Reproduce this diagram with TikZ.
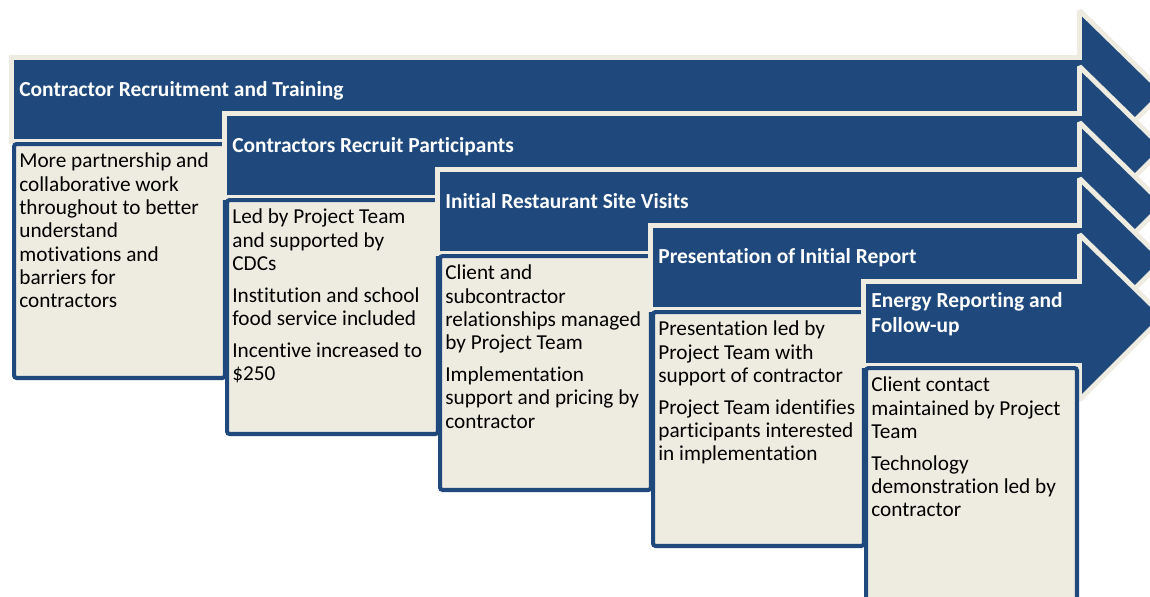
\documentclass[tikz,border=0pt]{standalone}
\usepackage{fontspec}
\setmainfont{Carlito}[Ligatures=NoCommon]
\usepackage{xcolor}
\usepackage{tikz}
\definecolor{stgblue}{RGB}{31,73,125}
\definecolor{stgcream}{RGB}{238,236,225}
\tikzset{
  stgarrow/.style={draw=stgcream,fill=stgblue,line width=2.8pt,
                   line join=miter,miter limit=2},
  stgcard/.style={draw=stgblue,fill=stgcream,line width=2.3pt,
                  rounded corners=1.5pt,anchor=north west,inner sep=0pt,
                  minimum width=4.22cm,minimum height=4.68cm},
  stgtitle/.style={anchor=west,text=white,align=left,inner sep=0pt,
                   font=\fontsize{12.2}{14.2}\selectfont\bfseries},
  stgnote/.style={anchor=north west,align=left,inner sep=0pt,
                  font=\fontsize{12.1}{13.3}\selectfont}
}

\begin{document}
\begin{tikzpicture}[x=0.02cm,y=-0.02cm]
  \useasboundingbox (0,0) rectangle (1150,596);
  \clip (0,0) rectangle (1150,596);

  % stage 1
  \draw[stgarrow] (11.5,57.5) -- (1079.5,57.5) -- (1079.5,10.5) -- (1163.25,92.25)
    -- (1079.5,176) -- (1079.5,141.5) -- (11.5,141.5) -- cycle;
  \node[stgtitle] (train) at (19,90.5) {Contractor Recruitment and Training};
  \node[stgcard] (traincard) at (12,142) {};
  \node[stgnote] (trainnote) at ([shift={(7,10.6)}]traincard.north west)
    {More partnership and\\collaborative work\\throughout to better\\understand\\motivations and\\barriers for\\contractors};

  % stage 2
  \draw[stgarrow] (224.5,113.5) -- (1079.5,113.5) -- (1079.5,66.5) -- (1163.25,148.25)
    -- (1079.5,232) -- (1079.5,197.5) -- (224.5,197.5) -- cycle;
  \node[stgtitle] (enlist) at (232,146.5) {Contractors Recruit Participants};
  \node[stgcard] (enlistcard) at (225,198) {};
  \node[stgnote] (enlistnote) at ([shift={(7,10.6)}]enlistcard.north west)
    {Led by Project Team\\and supported by\\CDCs\\[4.8pt]
     Institution and school\\food service included\\[4.8pt]
     Incentive increased to\\\$250};

  % stage 3
  \draw[stgarrow] (437.5,169.5) -- (1079.5,169.5) -- (1079.5,122.5) -- (1163.25,204.25)
    -- (1079.5,288) -- (1079.5,253.5) -- (437.5,253.5) -- cycle;
  \node[stgtitle] (visit) at (445,201.5) {Initial Restaurant Site Visits};
  \node[stgcard] (visitcard) at (438,254) {};
  \node[stgnote] (visitnote) at ([shift={(7,10.6)}]visitcard.north west)
    {Client and\\subcontractor\\relationships managed\\by Project Team\\[4.8pt]
     Implementation\\support and pricing by\\contractor};

  % stage 4
  \draw[stgarrow] (650.5,225.5) -- (1079.5,225.5) -- (1079.5,178.5) -- (1163.25,260.25)
    -- (1079.5,344) -- (1079.5,309.5) -- (650.5,309.5) -- cycle;
  \node[stgtitle] (report) at (658,257.5) {Presentation of Initial Report};
  \node[stgcard] (reportcard) at (651,310) {};
  \node[stgnote] (reportnote) at ([shift={(7,10.6)}]reportcard.north west)
    {Presentation led by\\Project Team with\\support of contractor\\[4.8pt]
     Project Team identifies\\participants interested\\in implementation};

  % stage 5
  \draw[stgarrow] (863.5,281.5) -- (1079.5,281.5) -- (1079.5,234.5) -- (1163.25,316.25)
    -- (1079.5,400) -- (1079.5,365.5) -- (863.5,365.5) -- cycle;
  \node[stgtitle] (energy) at (871,314) {Energy Reporting and\\Follow-up};
  \node[stgcard] (energycard) at (864,366) {};
  \node[stgnote] (energynote) at ([shift={(7,10.6)}]energycard.north west)
    {Client contact\\maintained by Project\\Team\\[4.8pt]
     Technology\\demonstration led by\\contractor};
\end{tikzpicture}
\end{document}
